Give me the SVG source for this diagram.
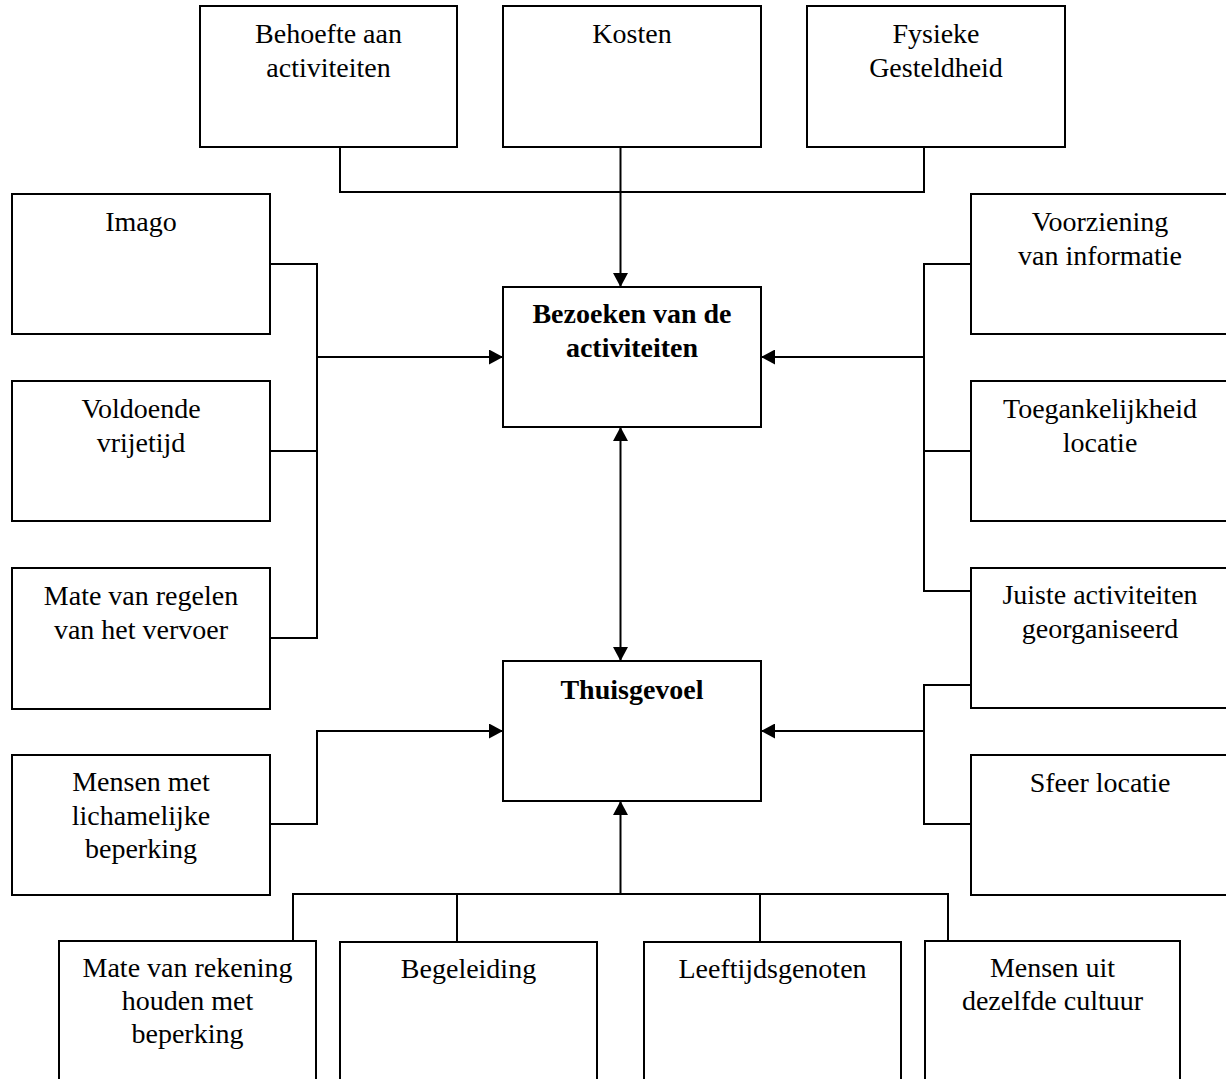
<svg xmlns="http://www.w3.org/2000/svg" width="1226" height="1079" viewBox="0 0 1226 1079">
<style>
.box{fill:#fff;stroke:#000;stroke-width:2}
.t{font-family:"Liberation Serif","Times New Roman",serif;font-size:28px;fill:#000;text-anchor:middle}
.b{font-weight:bold}
.c{fill:none;stroke:#000;stroke-width:2}
.a{marker-end:url(#ah)}
</style>
<defs>
<marker id="ah" markerUnits="userSpaceOnUse" markerWidth="14" markerHeight="15" refX="14" refY="7.5" orient="auto-start-reverse" viewBox="0 0 14 15">
<path d="M0,0 L14,7.5 L0,15 z" fill="#000"/>
</marker>
</defs>
<rect width="1226" height="1079" fill="#fff"/>
<g id="connectors">
<path class="c" d="M340,147 V192 H924 V147"/>
<path class="c a" d="M620.5,147 V287"/>
<path class="c" d="M270,264 H317 V638 H270 M270,451 H317"/>
<path class="c a" d="M317,357 H503"/>
<path class="c a" d="M270,824 H317 V731 H503"/>
<path class="c" d="M971,264 H924 V591 H971 M971,451 H924"/>
<path class="c a" d="M924,357 H761"/>
<path class="c" d="M971,685 H924 V824 H971"/>
<path class="c a" d="M924,731 H761"/>
<path class="c a" style="marker-start:url(#ah)" d="M620.5,427 V661"/>
<path class="c" d="M293,941 V894 H948 V941 M457,894 V942 M760,894 V942"/>
<path class="c a" d="M620.5,894 V801"/>
</g>
<g id="n-behoefte"><rect class="box" x="200" y="6" width="257" height="141"/><text class="t" x="328.5" y="43">Behoefte aan</text><text class="t" x="328.5" y="77">activiteiten</text></g>
<g id="n-kosten"><rect class="box" x="503" y="6" width="258" height="141"/><text class="t" x="632" y="43">Kosten</text></g>
<g id="n-fysieke"><rect class="box" x="807" y="6" width="258" height="141"/><text class="t" x="936" y="43">Fysieke</text><text class="t" x="936" y="77">Gesteldheid</text></g>
<g id="n-imago"><rect class="box" x="12" y="194" width="258" height="140"/><text class="t" x="141" y="231">Imago</text></g>
<g id="n-vrijetijd"><rect class="box" x="12" y="381" width="258" height="140"/><text class="t" x="141" y="418">Voldoende</text><text class="t" x="141" y="451.5">vrijetijd</text></g>
<g id="n-vervoer"><rect class="box" x="12" y="568" width="258" height="141"/><text class="t" x="141" y="605">Mate van regelen</text><text class="t" x="141" y="638.5">van het vervoer</text></g>
<g id="n-lichamelijk"><rect class="box" x="12" y="755" width="258" height="140"/><text class="t" x="141" y="791">Mensen met</text><text class="t" x="141" y="824.5">lichamelijke</text><text class="t" x="141" y="858">beperking</text></g>
<g id="n-informatie"><rect class="box" x="971" y="194" width="258" height="140"/><text class="t" x="1100" y="231">Voorziening</text><text class="t" x="1100" y="264.5">van informatie</text></g>
<g id="n-toegankelijkheid"><rect class="box" x="971" y="381" width="258" height="140"/><text class="t" x="1100" y="418">Toegankelijkheid</text><text class="t" x="1100" y="451.5">locatie</text></g>
<g id="n-juiste"><rect class="box" x="971" y="568" width="258" height="140"/><text class="t" x="1100" y="604">Juiste activiteiten</text><text class="t" x="1100" y="637.5">georganiseerd</text></g>
<g id="n-sfeer"><rect class="box" x="971" y="755" width="258" height="140"/><text class="t" x="1100" y="792">Sfeer locatie</text></g>
<g id="n-bezoeken"><rect class="box" x="503" y="287" width="258" height="140"/><text class="t b" x="632" y="323">Bezoeken van de</text><text class="t b" x="632" y="357">activiteiten</text></g>
<g id="n-thuisgevoel"><rect class="box" x="503" y="661" width="258" height="140"/><text class="t b" x="632" y="699">Thuisgevoel</text></g>
<g id="n-rekening"><rect class="box" x="59" y="941" width="257" height="160"/><text class="t" x="187.5" y="977">Mate van rekening</text><text class="t" x="187.5" y="1010">houden met</text><text class="t" x="187.5" y="1043">beperking</text></g>
<g id="n-begeleiding"><rect class="box" x="340" y="942" width="257" height="160"/><text class="t" x="468.5" y="978">Begeleiding</text></g>
<g id="n-leeftijd"><rect class="box" x="644" y="942" width="257" height="160"/><text class="t" x="772.5" y="978">Leeftijdsgenoten</text></g>
<g id="n-cultuur"><rect class="box" x="925" y="941" width="255" height="160"/><text class="t" x="1052.5" y="977">Mensen uit</text><text class="t" x="1052.5" y="1010">dezelfde cultuur</text></g>
</svg>
